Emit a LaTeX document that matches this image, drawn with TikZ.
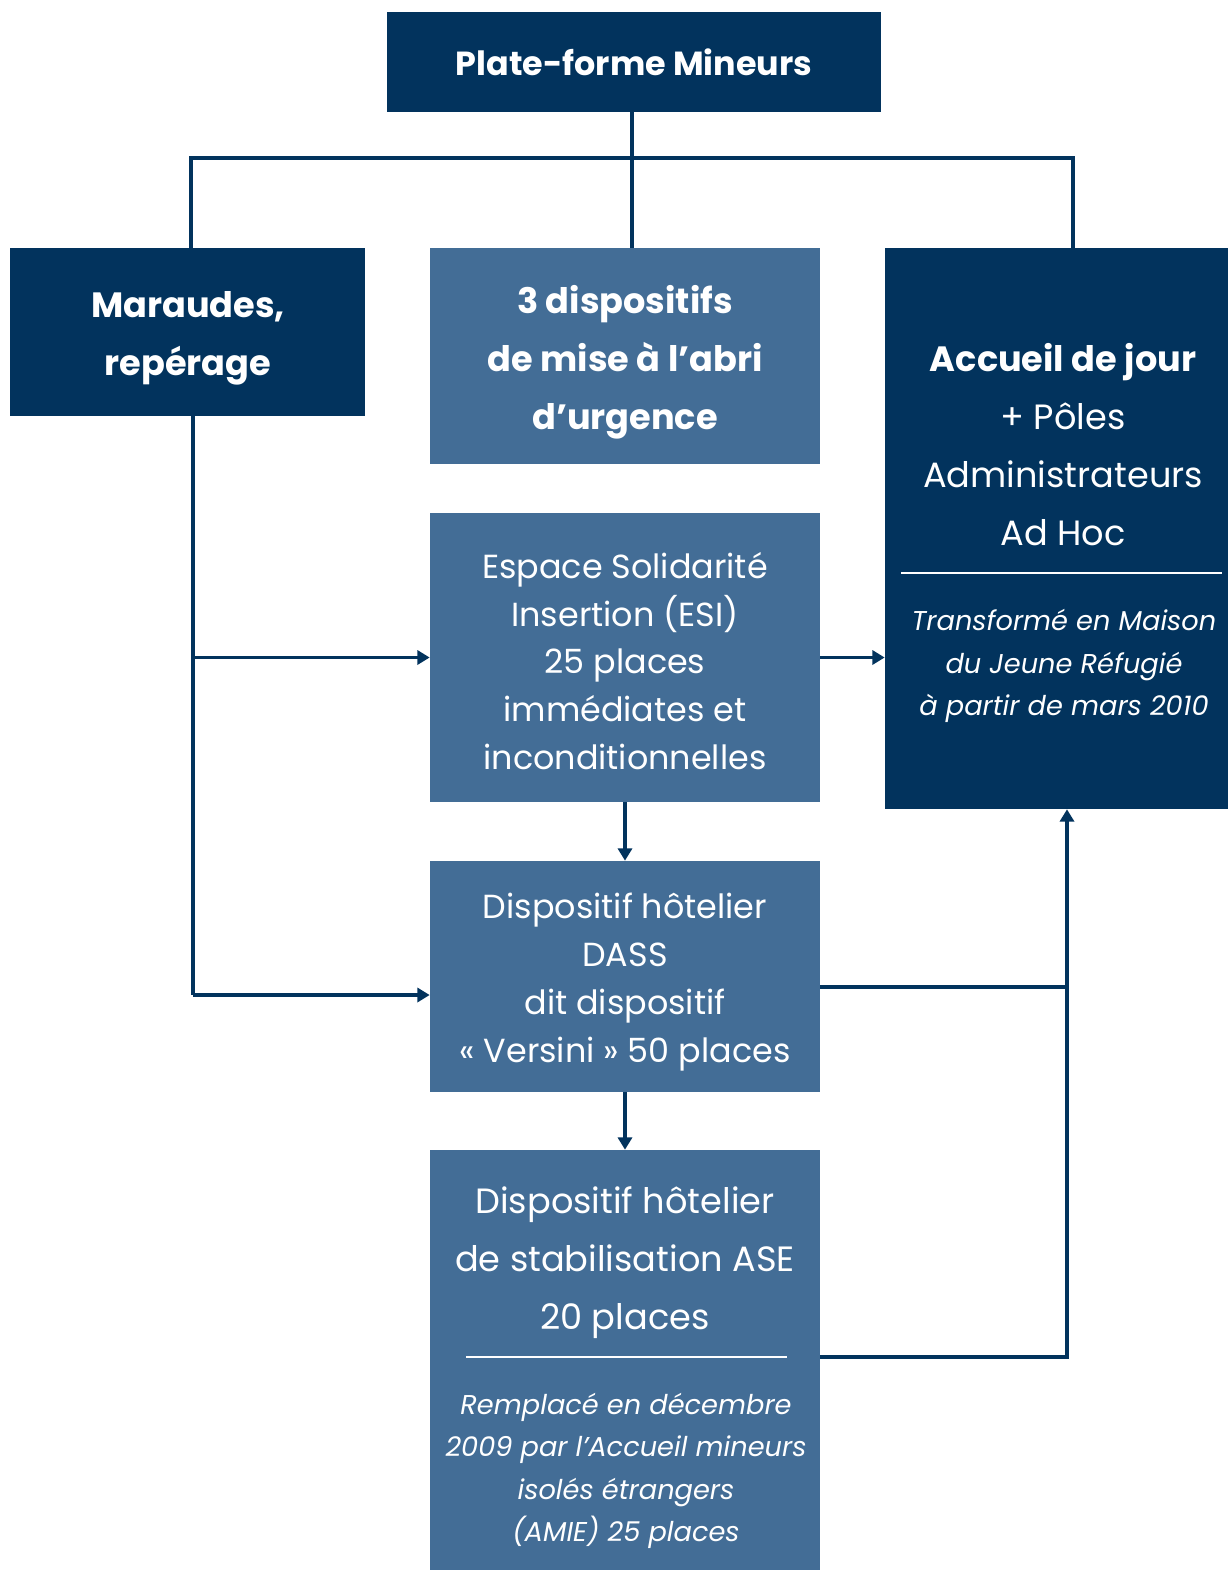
\documentclass[tikz,border=0pt]{standalone}
\usepackage{fontspec}
\setmainfont{Poppins}
\usepackage{tikz}
\usetikzlibrary{arrows.meta,positioning}

\definecolor{navy}{RGB}{2,51,93}
\definecolor{steel}{RGB}{67,109,150}

\begin{document}
\begin{tikzpicture}[
    x=0.02cm,y=-0.02cm,
    darkbox/.style={rectangle, fill=navy, inner sep=0pt, text=white, align=center},
    lightbox/.style={rectangle, fill=steel, inner sep=0pt, text=white, align=center},
    bigtxt/.style={font=\fontsize{20}{33}\selectfont},
    midtxt/.style={font=\fontsize{19}{27.2}\selectfont},
    notetxt/.style={text=white, align=center, font=\fontsize{15.5}{24.1}\selectfont\itshape},
    link/.style={draw=navy, line width=1.8pt},
    edge/.style={link, -{Triangle[length=7pt,width=8pt]}}
  ]
    \useasboundingbox (0,0) rectangle (1231,1570);

    \node[darkbox, minimum width=9.88cm, minimum height=2cm, font=\fontsize{19}{24}\selectfont\bfseries]
      (plateforme) at (634,62) {Plate-forme Mineurs};
    \node[darkbox, minimum width=7.1cm, minimum height=3.36cm]
      (maraudes) at (187.5,332) {};
    \node[lightbox, minimum width=7.8cm, minimum height=4.32cm]
      (urgence) at (625,356) {};
    \node[darkbox, minimum width=6.86cm, minimum height=11.22cm]
      (accueil) at (1056.5,528.5) {};
    \node[lightbox, midtxt, minimum width=7.8cm, minimum height=5.78cm]
      (esi) at (625,657.5) {};
    \node[lightbox, midtxt, minimum width=7.8cm, minimum height=4.62cm]
      (dass) at (625,976.5) {};
    \node[lightbox, minimum width=7.8cm, minimum height=8.4cm]
      (ase) at (625,1360) {};

    % texts of the boxes
    \node[text=white, align=center, bigtxt] (maraudestxt) at (188,338)
      {\textbf{Maraudes,}\\\textbf{repérage}};
    \node[text=white, align=center, bigtxt] (urgencetxt) at (625,362)
      {\textbf{3 dispositifs}\\\textbf{de mise à l’abri}\\\textbf{d’urgence}};
    \node[text=white, align=center, midtxt] (esitxt) at (625,661)
      {Espace Solidarité\\Insertion (ESI)\\25 places\\immédiates et\\inconditionnelles};
    \node[text=white, align=center, midtxt] (dasstxt) at (625,982)
      {Dispositif hôtelier\\DASS\\dit dispositif\\« Versini » 50 places};
    \node[text=white, align=center, bigtxt] (accueiltxt) at (1063,445)
      {\textbf{Accueil de jour}\\+ Pôles\\Administrateurs\\Ad Hoc};
    \node[notetxt] (accueilnote) at (1064,666)
      {Transformé en Maison\\du Jeune Réfugié\\à partir de mars 2010};
    \node[text=white, align=center, bigtxt] (asetxt) at (625,1263)
      {Dispositif hôtelier\\de stabilisation ASE\\20 places};
    \node[notetxt] (asenote) at (626,1471)
      {Remplacé en décembre\\2009 par l’Accueil mineurs\\isolés étrangers\\(AMIE) 25 places};
    \draw[white, line width=0.6pt] (901,573) -- (1222,573);
    \draw[white, line width=0.6pt] (466,1357) -- (787,1357);

    % tree from the top box
    \coordinate (split) at (632,158);
    \coordinate (splitl) at (191,158);
    \coordinate (splitr) at (1073,158);
    \draw[link] (plateforme.south -| split) -- (urgence.north -| split);
    \draw[link] (maraudes.north -| splitl) -- (splitl) -- (splitr) -- (accueil.north -| splitr);

    % left branch
    \coordinate (bend) at (193,995);
    \draw[link] (maraudes.south -| bend) -- (bend);
    \draw[edge] (bend |- esi.west) -- (esi.west);
    \draw[edge] (bend) -- (dass.west |- bend);

    \draw[edge] (esi.east) -- (accueil.west |- esi.east);
    \draw[edge] (esi) -- (dass);
    \draw[edge] (dass) -- (ase);

    % right return
    \coordinate (back) at (1067,987);
    \coordinate (backlow) at (1067,1357);
    \draw[link] (dass.east |- back) -- (back);
    \draw[edge] (ase.east |- backlow) -- (backlow) -- (accueil.south -| back);
  \end{tikzpicture}
\end{document}
